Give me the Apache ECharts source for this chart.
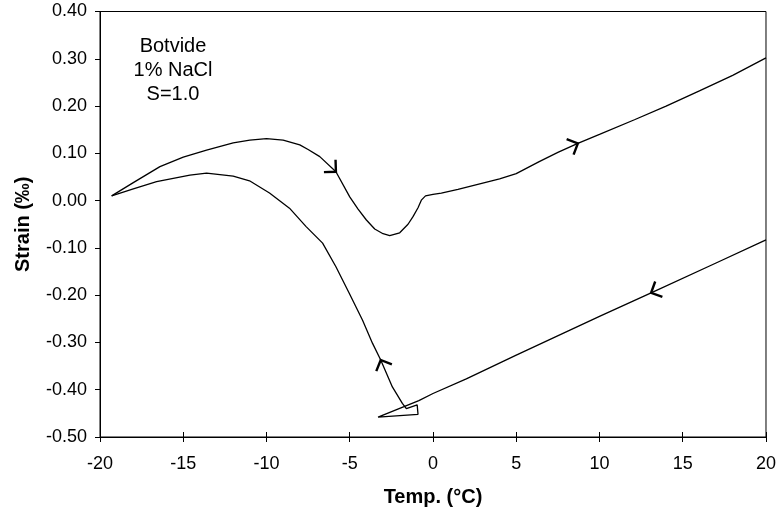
<!DOCTYPE html>
<html>
<head>
<meta charset="utf-8">
<script src="https://cdn.jsdelivr.net/npm/echarts@6/dist/echarts.min.js"></script>
<style>
  html, body { margin: 0; padding: 0; background: #fff; }
  #chart { width: 779px; height: 517px; }
</style>
</head>
<body>
<div id="chart"></div>
<script>
// Axis ticks
var tempTicks = [-20, -15, -10, -5, 0, 5, 10, 15, 20];
var strainTicks = [-0.5, -0.4, -0.3, -0.2, -0.1, 0.0, 0.1, 0.2, 0.3, 0.4];

// Cooling run: from +20 °C down, supercooling/nucleation loop near -3 °C, then down to -19.3 °C
var coolTemp = [20, 17, 13.1, 10, 5, 2, 0, -0.85, -3.3, -0.9, -0.95, -1.6, -1.84, -2.44, -3.14, -3.63, -4.23, -5.03, -5.83, -6.63, -7.62, -8.62, -9.82, -11.02, -12, -13.6, -14.6, -16.6, -18, -19.3];
var coolStrain = [-0.083, -0.132, -0.195, -0.245, -0.327, -0.377, -0.408, -0.423, -0.458, -0.452, -0.432, -0.440, -0.429, -0.394, -0.337, -0.302, -0.253, -0.196, -0.140, -0.090, -0.055, -0.016, 0.016, 0.042, 0.052, 0.058, 0.054, 0.040, 0.025, 0.010];

// Warming run: from -19.3 °C back up to +20 °C
var warmTemp = [-19.3, -18, -16.4, -15, -13.6, -12, -11, -10, -9, -8, -7.5, -6.8, -5.83, -5, -4.5, -4, -3.5, -3, -2.6, -2.0, -1.5, -1.2, -0.9, -0.7, -0.45, 0, 0.5, 1.5, 2.75, 4, 5, 6.35, 7.5, 8.7, 10, 12.1, 14, 16, 18, 20];
var warmStrain = [0.010, 0.038, 0.072, 0.092, 0.107, 0.122, 0.128, 0.131, 0.128, 0.118, 0.108, 0.093, 0.061, 0.008, -0.018, -0.041, -0.060, -0.070, -0.074, -0.068, -0.050, -0.034, -0.015, 0.001, 0.010, 0.013, 0.016, 0.024, 0.035, 0.046, 0.057, 0.082, 0.102, 0.121, 0.140, 0.171, 0.200, 0.232, 0.265, 0.302];

// Direction arrows: [tail temp, tail strain, tip temp, tip strain] taken along the curves
var arrowMarks = [
  [-6.8, 0.093, -5.83, 0.061],
  [7.5, 0.102, 8.7, 0.121],
  [14.5, -0.172, 13.1, -0.195],
  [-2.44, -0.394, -3.14, -0.337]
];

var noteLines = ['Botvide', '1% NaCl', 'S=1.0'];

function zipPairs(xs, ys) {
  return xs.map(function (x, i) { return [x, ys[i]]; });
}

var FONT = '"Liberation Sans", Arial, sans-serif';
var chart = echarts.init(document.getElementById('chart'), null, { renderer: 'canvas' });

chart.setOption({
  animation: false,
  backgroundColor: '#fff',
  grid: {
    left: 100, right: 11, top: 11.5, bottom: 80,
    show: true, borderColor: '#000', borderWidth: 1, backgroundColor: 'transparent'
  },
  xAxis: [{
    type: 'value', position: 'bottom',
    min: tempTicks[0], max: tempTicks[tempTicks.length - 1], interval: 5,
    axisLine: { show: true, onZero: false, lineStyle: { color: '#000', width: 1 } },
    axisTick: { show: true, length: 5, lineStyle: { color: '#000' } },
    axisLabel: { color: '#000', fontFamily: FONT, fontSize: 18, margin: 18 },
    splitLine: { show: false },
    name: 'Temp. (°C)', nameLocation: 'middle', nameGap: 50,
    nameTextStyle: { color: '#000', fontFamily: FONT, fontSize: 20, fontWeight: 'bold' }
  }, {
    type: 'value', position: 'bottom',
    min: tempTicks[0], max: tempTicks[tempTicks.length - 1], interval: 5,
    axisLine: { show: false, onZero: false },
    axisTick: { show: true, inside: true, length: 5, lineStyle: { color: '#000' } },
    axisLabel: { show: false },
    splitLine: { show: false }
  }],
  yAxis: {
    type: 'value',
    min: strainTicks[0], max: strainTicks[strainTicks.length - 1], interval: 0.1,
    axisLine: { show: true, onZero: false, lineStyle: { color: '#000', width: 1 } },
    axisTick: { show: true, length: 5, lineStyle: { color: '#000' } },
    axisLabel: {
      color: '#000', fontFamily: FONT, fontSize: 18, margin: 13,
      formatter: function (v) { return v.toFixed(2); }
    },
    splitLine: { show: false },
    name: 'Strain (‰)', nameLocation: 'middle', nameGap: 67, nameRotate: 90,
    nameTextStyle: { color: '#000', fontFamily: FONT, fontSize: 20, fontWeight: 'bold' }
  },
  series: [{
    name: 'Cooling', type: 'line', data: zipPairs(coolTemp, coolStrain),
    showSymbol: false, smooth: false,
    lineStyle: { color: '#000', width: 1.3 }
  }, {
    name: 'Warming', type: 'line', data: zipPairs(warmTemp, warmStrain),
    showSymbol: false, smooth: false,
    lineStyle: { color: '#000', width: 1.3 }
  }, {
    name: 'Direction', type: 'custom', data: arrowMarks,
    renderItem: function (params, api) {
      var tail = api.coord([api.value(0), api.value(1)]);
      var tip = api.coord([api.value(2), api.value(3)]);
      var ang = Math.atan2(tail[1] - tip[1], tail[0] - tip[0]);
      var arm = 12, spread = Math.PI / 4;
      var a1 = [tip[0] + arm * Math.cos(ang + spread), tip[1] + arm * Math.sin(ang + spread)];
      var a2 = [tip[0] + arm * Math.cos(ang - spread), tip[1] + arm * Math.sin(ang - spread)];
      return {
        type: 'polyline',
        shape: { points: [a1, tip, a2] },
        style: { stroke: '#000', lineWidth: 2.4, fill: null }
      };
    },
    z: 5
  }],
  graphic: [{
    type: 'text', x: 173, y: 34,
    style: {
      text: noteLines.join('\n'), fill: '#000', font: '20px ' + FONT,
      align: 'center', verticalAlign: 'top', lineHeight: 24
    }
  }]
});
</script>
</body>
</html>
